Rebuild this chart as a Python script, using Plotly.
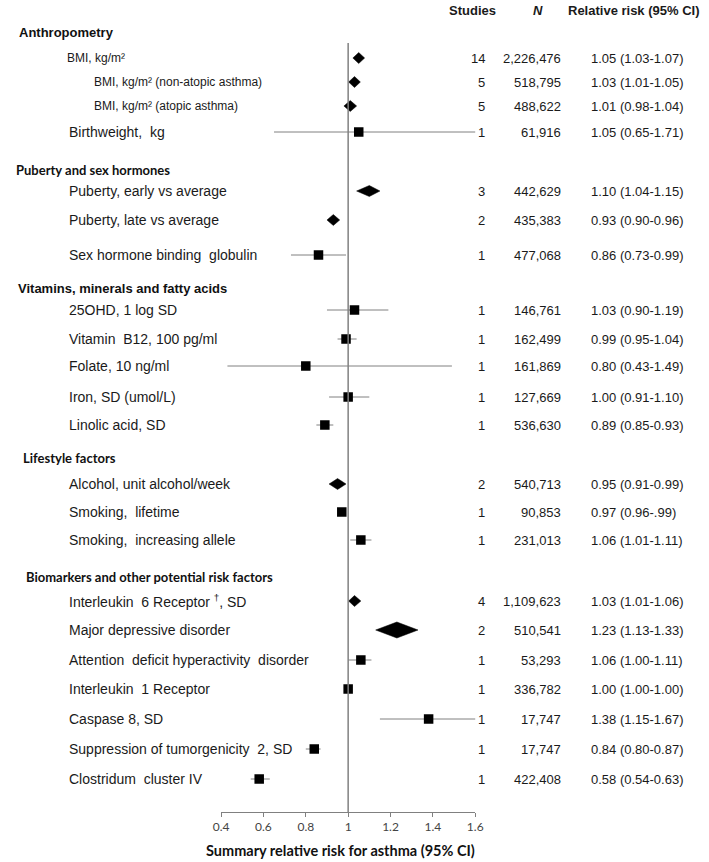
import plotly.graph_objects as go

# ---------------- data ----------------
sections = ["Anthropometry", "Puberty and sex hormones",
            "Vitamins, minerals and fatty acids", "Lifestyle factors",
            "Biomarkers and other potential risk factors"]

factors = ["BMI, kg/m²", "BMI, kg/m² (non-atopic asthma)", "BMI, kg/m² (atopic asthma)",
           "Birthweight,  kg",
           "Puberty, early vs average", "Puberty, late vs average",
           "Sex hormone binding  globulin",
           "25OHD, 1 log SD", "Vitamin  B12, 100 pg/ml", "Folate, 10 ng/ml",
           "Iron, SD (umol/L)", "Linolic acid, SD",
           "Alcohol, unit alcohol/week", "Smoking,  lifetime", "Smoking,  increasing allele",
           "Interleukin  6 Receptor <sup>†</sup>, SD", "Major depressive disorder",
           "Attention  deficit hyperactivity  disorder", "Interleukin  1 Receptor",
           "Caspase 8, SD", "Suppression of tumorgenicity  2, SD", "Clostridum  cluster IV"]

studies = [14, 5, 5, 1, 3, 2, 1, 1, 1, 1, 1, 1, 2, 1, 1, 4, 2, 1, 1, 1, 1, 1]
n_participants = [2226476, 518795, 488622, 61916, 442629, 435383, 477068, 146761,
                  162499, 161869, 127669, 536630, 540713, 90853, 231013, 1109623,
                  510541, 53293, 336782, 17747, 17747, 422408]
rr = [1.05, 1.03, 1.01, 1.05, 1.10, 0.93, 0.86, 1.03, 0.99, 0.80, 1.00, 0.89,
      0.95, 0.97, 1.06, 1.03, 1.23, 1.06, 1.00, 1.38, 0.84, 0.58]
ci_lo = [1.03, 1.01, 0.98, 0.65, 1.04, 0.90, 0.73, 0.90, 0.95, 0.43, 0.91, 0.85,
         0.91, 0.96, 1.01, 1.01, 1.13, 1.00, 1.00, 1.15, 0.80, 0.54]
ci_hi = [1.07, 1.05, 1.04, 1.71, 1.15, 0.96, 0.99, 1.19, 1.04, 1.49, 1.10, 0.93,
         0.99, 0.99, 1.11, 1.06, 1.33, 1.11, 1.00, 1.67, 0.87, 0.63]
rr_text = ["1.05 (1.03-1.07)", "1.03 (1.01-1.05)", "1.01 (0.98-1.04)", "1.05 (0.65-1.71)",
           "1.10 (1.04-1.15)", "0.93 (0.90-0.96)", "0.86 (0.73-0.99)",
           "1.03 (0.90-1.19)", "0.99 (0.95-1.04)", "0.80 (0.43-1.49)", "1.00 (0.91-1.10)",
           "0.89 (0.85-0.93)", "0.95 (0.91-0.99)", "0.97 (0.96-.99)", "1.06 (1.01-1.11)",
           "1.03 (1.01-1.06)", "1.23 (1.13-1.33)", "1.06 (1.00-1.11)", "1.00 (1.00-1.00)",
           "1.38 (1.15-1.67)", "0.84 (0.80-0.87)", "0.58 (0.54-0.63)"]
tick_values = [0.4, 0.6, 0.8, 1.0, 1.2, 1.4, 1.6]
tick_labels = ["0.4", "0.6", "0.8", "1", "1.2", "1.4", "1.6"]
col_headers = ["Studies", "<i>N</i>", "Relative risk (95% CI)"]
x_title = "Summary relative risk for asthma (95% CI)"

# ---------------- layout (pixel rows) ----------------
W, H = 709, 862
AXIS_Y = 812
row_y = [58, 82, 106, 132, 191, 220, 255, 310, 339, 366, 397, 425,
         484, 512, 540, 601, 630, 660, 689, 719, 749, 779]
section_y = [32, 170, 288, 458, 577]
section_x = [9, 6, 8, 13, 16]
section_font = ["Liberation Sans", "Lato", "Liberation Sans", "Lato", "Lato"]
section_size = [13, 13, 13, 13, 13]
label_x = {0: 58, 1: 86, 2: 86}
label_size = {0: 12, 1: 12, 2: 12}
diamond_half_h = {16: 8}
PX_PER_UNIT = (478 - 218) / 1.2
MIN_HALF_W = 6 / PX_PER_UNIT

GREY = "#808080"
fig = go.Figure()

# CI lines for single-study squares
lx, ly = [], []
for i in range(len(factors)):
    if studies[i] == 1:
        lx += [ci_lo[i], ci_hi[i], None]
        ly += [row_y[i], row_y[i], None]
fig.add_trace(go.Scatter(x=lx, y=ly, mode="lines",
                         line=dict(color=GREY, width=1), hoverinfo="skip"))

# squares
sq = [i for i in range(len(factors)) if studies[i] == 1]
fig.add_trace(go.Scatter(x=[rr[i] for i in sq], y=[row_y[i] for i in sq], mode="markers",
                         marker=dict(symbol="square", size=9.5, color="black",
                                     line=dict(width=0))))

# diamonds (pooled estimates)
for i in range(len(factors)):
    if studies[i] > 1:
        hh = diamond_half_h.get(i, 5.5)
        lo = min(ci_lo[i], rr[i] - MIN_HALF_W)
        hi = max(ci_hi[i], rr[i] + MIN_HALF_W)
        y = row_y[i]
        fig.add_trace(go.Scatter(x=[lo, rr[i], hi, rr[i], lo],
                                 y=[y, y - hh, y, y + hh, y],
                                 mode="lines", fill="toself", fillcolor="black",
                                 line=dict(color="black", width=0.5), hoverinfo="skip"))

# reference line at 1
fig.add_shape(type="line", xref="x", yref="y", x0=1, x1=1, y0=43, y1=AXIS_Y,
              line=dict(color=GREY, width=1.5))

ann = []
txt_font = dict(family="Liberation Sans, Arial", size=13, color="#1a1a1a")
lab_font = "Liberation Sans, Arial"

# column headers
ann.append(dict(x=475 / W, y=10, text=f"<b>{col_headers[0]}</b>", xanchor="center"))
ann.append(dict(x=542 / W, y=10, text=f"<b>{col_headers[1]}</b>", xanchor="center"))
ann.append(dict(x=571 / W, y=10, text=f"<b>{col_headers[2]}</b>", xanchor="left"))

for k, s in enumerate(sections):
    ann.append(dict(x=section_x[k] / W, y=section_y[k], text=f"<b>{s}</b>", xanchor="left",
                    font=dict(family=section_font[k], size=section_size[k], color="#111")))

for i, f in enumerate(factors):
    ann.append(dict(x=label_x.get(i, 60) / W, y=row_y[i], text=f, xanchor="left",
                    font=dict(family=lab_font, size=label_size.get(i, 14), color="#1a1a1a")))
    ann.append(dict(x=490 / W, y=row_y[i], text=str(studies[i]), xanchor="right"))
    ann.append(dict(x=568 / W, y=row_y[i], text=f"{n_participants[i]:,}", xanchor="right"))
    ann.append(dict(x=594 / W, y=row_y[i], text=rr_text[i], xanchor="left"))

for a in ann:
    a.setdefault("font", txt_font)
    a.update(xref="paper", yref="y", yanchor="middle", showarrow=False)

# axis title below the plot area (paper coordinates)
ann.append(dict(x=340 / W, y=(AXIS_Y - 850) / AXIS_Y, xref="paper", yref="paper",
                text=f"<b>{x_title}</b>", xanchor="center", yanchor="middle",
                showarrow=False, font=dict(family="Lato", size=14.5, color="#111")))

fig.update_layout(
    width=W, height=H, margin=dict(l=0, r=0, t=0, b=H - AXIS_Y),
    paper_bgcolor="white", plot_bgcolor="white", showlegend=False,
    annotations=ann,
    xaxis=dict(domain=[218 / W, 478 / W], range=[0.4, 1.6], tickvals=tick_values,
               ticktext=tick_labels, showline=True, linecolor=GREY, linewidth=1,
               ticks="outside", ticklen=4, tickcolor=GREY, showgrid=False,
               zeroline=False, fixedrange=True,
               tickfont=dict(family="Lato", size=12, color="#444")),
    yaxis=dict(range=[AXIS_Y, 0], visible=False, showgrid=False, zeroline=False,
               fixedrange=True),
)

fig.write_html("out.html", config={"displayModeBar": False},
               post_script="document.body.style.margin='0';document.body.style.overflow='hidden';")
